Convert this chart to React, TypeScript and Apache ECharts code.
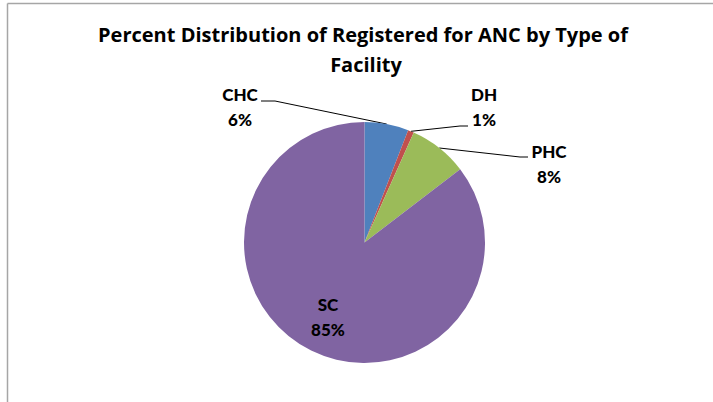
import React, { useEffect, useRef } from "react";
import * as echarts from "echarts";

const titleLines = ["Percent Distribution of Registered for ANC by Type of", "Facility"];
const categories = ["CHC", "DH", "PHC", "SC"];
const values = [5.9, 0.8, 7.9, 85.4];
const colors = ["#4F81BD", "#C0504D", "#9BBB59", "#8064A2"];

// label anchor positions (label layout only)
const labelPos: [number, number][] = [
  [240, 107],
  [484, 107],
  [549, 164],
  [328, 317],
];
const elbowPts: ([number, number][] | null)[] = [
  [[275, 101], [261, 101]],
  [[460, 126], [468, 126]],
  [[520, 157], [528, 157]],
  null,
];

export default function App() {
  const ref = useRef<HTMLDivElement>(null);
  useEffect(() => {
    if (!ref.current) return;
    const chart = echarts.init(ref.current, null, { renderer: "svg" });
    const font = "Lato, 'Liberation Sans', sans-serif";
    const titleFont = "'Open Sans', 'Liberation Sans', sans-serif";
    chart.setOption({
      animation: false,
      backgroundColor: "#ffffff",
      graphic: [
        {
          type: "line",
          shape: { x1: 7.5, y1: 3.5, x2: 713, y2: 3.5 },
          style: { stroke: "#a6a6a6", lineWidth: 1.5 },
        },
        {
          type: "line",
          shape: { x1: 7.5, y1: 3.5, x2: 7.5, y2: 402 },
          style: { stroke: "#a6a6a6", lineWidth: 1.5 },
        },
        {
          type: "text",
          x: 363,
          y: 34,
          style: {
            text: titleLines[0],
            fontFamily: titleFont,
            fontWeight: "bold",
            fontSize: 20,
            fill: "#000",
            textAlign: "center",
            textVerticalAlign: "middle",
          },
        },
        {
          type: "text",
          x: 366,
          y: 64,
          style: {
            text: titleLines[1],
            fontFamily: titleFont,
            fontWeight: "bold",
            fontSize: 20,
            fill: "#000",
            textAlign: "center",
            textVerticalAlign: "middle",
          },
        },
      ],
      series: [
        {
          type: "pie",
          center: [364.5, 242.5],
          radius: 120.5,
          startAngle: 90,
          clockwise: true,
          percentPrecision: 0,
          label: {
            show: true,
            position: "outside",
            formatter: "{b}\n{d}%",
            fontFamily: font,
            fontWeight: 900,
            fontSize: 17,
            lineHeight: 25,
            color: "#000",
            align: "center",
          },
          labelLine: {
            show: true,
            length: 10,
            length2: 10,
            lineStyle: { color: "#000", width: 1 },
          },
          labelLayout: (params: any) => {
            const i = params.dataIndex;
            const out: any = {
              x: labelPos[i][0],
              y: labelPos[i][1],
              align: "center",
              verticalAlign: "middle",
            };
            const e = elbowPts[i];
            if (e && params.labelLinePoints && params.labelLinePoints[0]) {
              out.labelLinePoints = [params.labelLinePoints[0], e[0], e[1]];
            }
            return out;
          },
          emphasis: { disabled: true },
          data: categories.map((c, i) => ({
            name: c,
            value: values[i],
            itemStyle: { color: colors[i] },
            ...(i === 3
              ? { label: { position: "inside" }, labelLine: { show: false } }
              : {}),
          })),
        },
      ],
    });
    return () => chart.dispose();
  }, []);
  return (
    <div
      ref={ref}
      style={{ position: "absolute", left: 0, top: 0, width: 713, height: 402 }}
    />
  );
}
